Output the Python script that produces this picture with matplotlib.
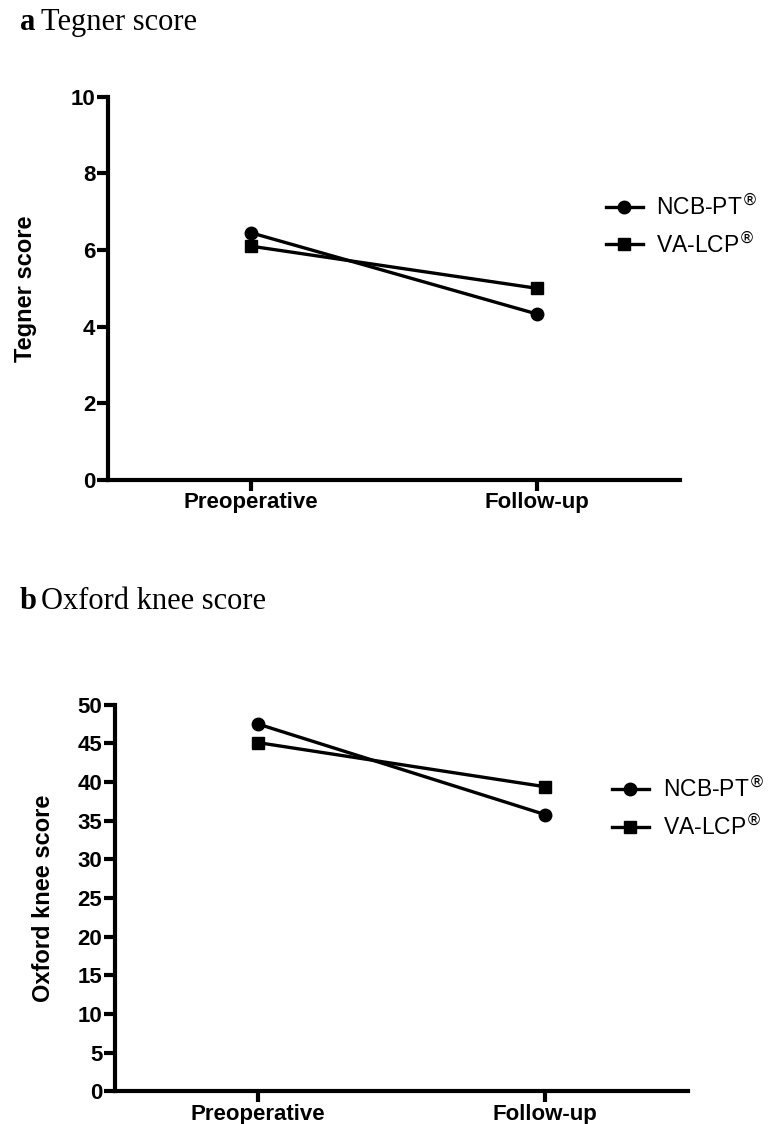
import matplotlib
matplotlib.use('Agg')
import matplotlib.pyplot as plt

# Data
categories = ['Preoperative', 'Follow-up']
tegner_ncb = [6.45, 4.33]
tegner_va = [6.10, 5.00]
oxford_ncb = [47.5, 35.8]
oxford_va = [45.1, 39.4]
series_names = ['NCB-PT$^{®}$', 'VA-LCP$^{®}$']

sans = 'Liberation Sans'
fig = plt.figure(figsize=(7.7, 11.24), dpi=100)


def panel(rect, ncb, va, ylabel, ymax, ystep, letter, title, title_y, leg_xy, pad):
    ax = fig.add_axes(rect)
    x = list(range(len(categories)))
    ax.plot(x, ncb, color='black', lw=2.4, marker='o', ms=9, label=series_names[0])
    ax.plot(x, va, color='black', lw=2.4, marker='s', ms=9, label=series_names[1])
    ax.set_xlim(-0.5, 1.5)
    ax.set_ylim(0, ymax)
    ax.set_yticks(range(0, ymax + 1, ystep))
    ax.set_xticks(x)
    ax.set_xticklabels(categories, fontfamily=sans, fontweight='bold', fontsize=16)
    for t in ax.get_yticklabels():
        t.set_fontfamily(sans)
        t.set_fontweight('bold')
        t.set_fontsize(16)
    ax.set_ylabel(ylabel, fontfamily=sans, fontweight='bold', fontsize=17, labelpad=pad)
    for s in ['top', 'right']:
        ax.spines[s].set_visible(False)
    for s in ['left', 'bottom']:
        ax.spines[s].set_linewidth(3)
    ax.tick_params(width=3, length=8, pad=1)
    ax.legend(loc='center left', bbox_to_anchor=leg_xy, bbox_transform=fig.transFigure,
              frameon=False, prop={'family': sans, 'size': 16.5}, handlelength=1.6,
              handletextpad=0.6, labelspacing=0.55, borderaxespad=0, borderpad=0)
    fig.text(0.026, title_y, letter, fontfamily='Liberation Serif', fontweight='bold',
             fontsize=22, va='center')
    fig.text(0.053, title_y, title, fontfamily='Liberation Serif', fontsize=22, va='center')
    return ax


ax1 = panel([0.140, 0.573, 0.743, 0.341], tegner_ncb, tegner_va, 'Tegner score', 10, 2,
            'a', 'Tegner score', 0.980, (0.787, 0.799), 24)
ax2 = panel([0.149, 0.029, 0.745, 0.344], oxford_ncb, oxford_va, 'Oxford knee score', 50, 5,
            'b', 'Oxford knee score', 0.465, (0.795, 0.281), 16)

plt.savefig('out.png', dpi=100)
